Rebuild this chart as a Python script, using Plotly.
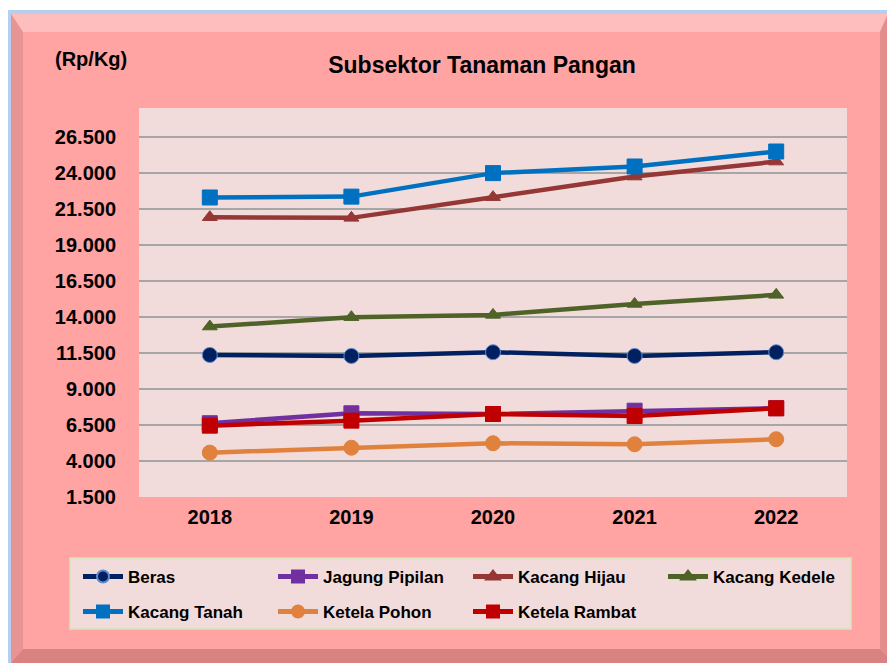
import plotly.graph_objects as go

years = ["2018", "2019", "2020", "2021", "2022"]
beras = [11360, 11290, 11550, 11290, 11550]
jagung_pipilan = [6620, 7310, 7260, 7490, 7660]
kacang_hijau = [20920, 20875, 22310, 23740, 24780]
kacang_kedele = [13330, 13980, 14140, 14900, 15530]
kacang_tanah = [22290, 22350, 23980, 24440, 25480]
ketela_pohon = [4580, 4920, 5230, 5160, 5510]
ketela_rambat = [6450, 6800, 7260, 7120, 7660]

y_tickvals = [1500, 4000, 6500, 9000, 11500, 14000, 16500, 19000, 21500, 24000, 26500]
y_ticktext = ["1.500", "4.000", "6.500", "9.000", "11.500", "14.000", "16.500",
              "19.000", "21.500", "24.000", "26.500"]

W, H = 887, 663
L, R, T, B = 139, 847, 108, 497  # plot area in page pixels
FONT = "Liberation Sans, Arial, sans-serif"


def px(x):
    return (x - L) / (R - L)


def py(y):
    return (B - y) / (B - T)


def poly(points, fill):
    d = "M " + " L ".join(f"{px(x):.5f},{py(y):.5f}" for x, y in points) + " Z"
    return dict(type="path", xref="paper", yref="paper", path=d,
                fillcolor=fill, line=dict(width=0), layer="below")


def rect(x0, y0, x1, y1, fill, line=None):
    return dict(type="rect", xref="paper", yref="paper",
                x0=px(x0), x1=px(x1), y0=py(y1), y1=py(y0),
                fillcolor=fill, line=line or dict(width=0), layer="below")


series = [
    ("Beras", beras, "#002060", "circle", 15, "#5B8BD0", "legend"),
    ("Jagung Pipilan", jagung_pipilan, "#7030A0", "square", 15, "#7030A0", "legend"),
    ("Kacang Hijau", kacang_hijau, "#953735", "triangle-up", 13, "#953735", "legend"),
    ("Kacang Kedele", kacang_kedele, "#4F6228", "triangle-up", 13, "#4F6228", "legend"),
    ("Kacang Tanah", kacang_tanah, "#0070C0", "square", 15, "#0070C0", "legend2"),
    ("Ketela Pohon", ketela_pohon, "#E0823D", "circle", 15, "#E0823D", "legend2"),
    ("Ketela Rambat", ketela_rambat, "#C00000", "square", 15, "#C00000", "legend2"),
]

fig = go.Figure()
for name, vals, color, sym, size, mline, lg in series:
    fig.add_trace(go.Scatter(
        x=years, y=vals, name=name, mode="lines+markers", legend=lg,
        line=dict(color=color, width=4.5),
        marker=dict(symbol=sym, size=size, color=color,
                    line=dict(color=mline, width=1)),
    ))

shapes = [
    rect(8, 10, 887, 663, "#B4CFF0"),
    rect(11, 14, 887, 663, "#FFA3A3"),
    poly([(11, 14), (887, 14), (887, 16), (880, 32), (23, 32)], "#FFBEBE"),
    poly([(11, 14), (23, 32), (23, 649), (11, 663)], "#E89494"),
    poly([(11, 663), (23, 649), (880, 649), (887, 656), (887, 663)], "#D98282"),
    poly([(887, 16), (880, 32), (880, 649), (887, 656)], "#E38D8D"),
    rect(L, T, R, B, "#F2DCDB"),
    rect(70, 558, 851, 629, "#F2DCDB", dict(color="#D7E4BD", width=1.5)),
]

legend_common = dict(
    orientation="h", xanchor="left", yanchor="middle",
    bgcolor="rgba(0,0,0,0)", borderwidth=0,
    font=dict(family=FONT, size=17, color="#000000", weight="bold"),
    itemwidth=40, entrywidth=140, traceorder="normal", itemsizing="constant",
)

fig.update_layout(
    width=W, height=H,
    margin=dict(l=L, r=W - R, t=T, b=H - B, pad=0),
    paper_bgcolor="#FFFFFF",
    plot_bgcolor="#F2DCDB",
    font=dict(family=FONT, color="#000000"),
    title=dict(text="Subsektor Tanaman Pangan", x=px(482), xref="paper",
               xanchor="center", y=1 - 65 / H, yref="container", yanchor="middle",
               font=dict(family=FONT, size=23, weight="bold", color="#000000")),
    annotations=[dict(text="(Rp/Kg)", xref="paper", yref="paper",
                      x=px(91), y=py(59), xanchor="center", yanchor="middle",
                      showarrow=False,
                      font=dict(family=FONT, size=20, weight="bold", color="#000000"))],
    shapes=shapes,
    legend=dict(x=px(78), y=py(577), **legend_common),
    legend2=dict(x=px(78), y=py(612), **legend_common),
    xaxis=dict(type="category", range=[-0.5, 4.5], showgrid=False, zeroline=False,
               showline=False, ticks="", ticklabelstandoff=6,
               tickfont=dict(family=FONT, size=20, weight="bold", color="#000000")),
    yaxis=dict(range=[1500, 28500], tickvals=y_tickvals, ticktext=y_ticktext,
               showgrid=True, gridcolor="#A6A6A6", gridwidth=1.5, zeroline=False,
               showline=False, ticks="", ticklabelstandoff=22,
               tickfont=dict(family=FONT, size=20, weight="bold", color="#000000")),
    hovermode=False,
)

fig.write_html(
    "out.html",
    config={"displayModeBar": False},
    post_script="document.body.style.margin='0';document.body.style.overflow='hidden';",
)
